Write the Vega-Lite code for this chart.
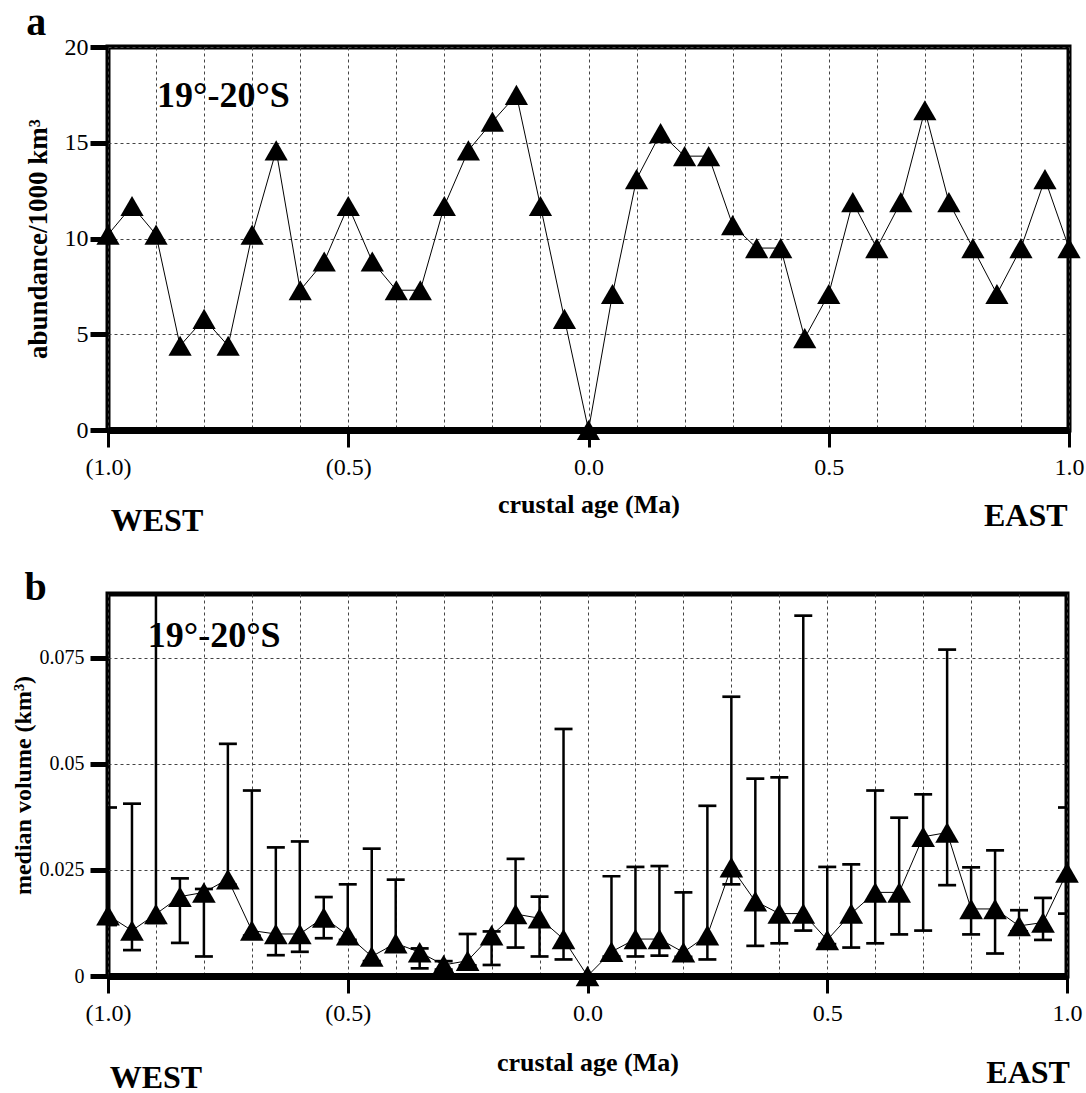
{
  "$schema": "https://vega.github.io/schema/vega-lite/v6.json",
  "background": "white",
  "padding": {"left": 8, "top": 0, "right": 5, "bottom": 0},
  "config": {
    "view": {"stroke": "black", "strokeWidth": 5},
    "font": "Liberation Serif",
    "axis": {
      "domain": false,
      "grid": true,
      "gridDash": [3, 3],
      "gridColor": "#444",
      "gridWidth": 1,
      "tickColor": "black",
      "labelColor": "black",
      "titleColor": "black",
      "labelFont": "Liberation Serif",
      "titleFont": "Liberation Serif",
      "titleFontWeight": "bold"
    },
    "text": {"font": "Liberation Serif", "fontWeight": "bold", "color": "black"}
  },
  "datasets": {
    "a": [
      {"age": -1.0, "abundance": 10.2}, {"age": -0.95, "abundance": 11.7}, {"age": -0.9, "abundance": 10.2},
      {"age": -0.85, "abundance": 4.4}, {"age": -0.8, "abundance": 5.8}, {"age": -0.75, "abundance": 4.4},
      {"age": -0.7, "abundance": 10.2}, {"age": -0.65, "abundance": 14.6}, {"age": -0.6, "abundance": 7.3},
      {"age": -0.55, "abundance": 8.8}, {"age": -0.5, "abundance": 11.7}, {"age": -0.45, "abundance": 8.8},
      {"age": -0.4, "abundance": 7.3}, {"age": -0.35, "abundance": 7.3}, {"age": -0.3, "abundance": 11.7},
      {"age": -0.25, "abundance": 14.6}, {"age": -0.2, "abundance": 16.1}, {"age": -0.15, "abundance": 17.5},
      {"age": -0.1, "abundance": 11.7}, {"age": -0.05, "abundance": 5.8}, {"age": 0.0, "abundance": 0.0},
      {"age": 0.05, "abundance": 7.1}, {"age": 0.1, "abundance": 13.1}, {"age": 0.15, "abundance": 15.5},
      {"age": 0.2, "abundance": 14.3}, {"age": 0.25, "abundance": 14.3}, {"age": 0.3, "abundance": 10.7},
      {"age": 0.35, "abundance": 9.5}, {"age": 0.4, "abundance": 9.5}, {"age": 0.45, "abundance": 4.8},
      {"age": 0.5, "abundance": 7.1}, {"age": 0.55, "abundance": 11.9}, {"age": 0.6, "abundance": 9.5},
      {"age": 0.65, "abundance": 11.9}, {"age": 0.7, "abundance": 16.7}, {"age": 0.75, "abundance": 11.9},
      {"age": 0.8, "abundance": 9.5}, {"age": 0.85, "abundance": 7.1}, {"age": 0.9, "abundance": 9.5},
      {"age": 0.95, "abundance": 13.1}, {"age": 1.0, "abundance": 9.5}
    ],
    "b": [
      {"age": -1.0, "med": 0.0143, "lo": 0.012, "hi": 0.0397},
      {"age": -0.95, "med": 0.0107, "lo": 0.0061, "hi": 0.0406},
      {"age": -0.9, "med": 0.0146, "lo": 0.0125, "hi": 0.12},
      {"age": -0.85, "med": 0.0187, "lo": 0.0078, "hi": 0.023},
      {"age": -0.8, "med": 0.0197, "lo": 0.0046, "hi": 0.0205},
      {"age": -0.75, "med": 0.0228, "lo": 0.0215, "hi": 0.0547},
      {"age": -0.7, "med": 0.0107, "lo": 0.0095, "hi": 0.0437},
      {"age": -0.65, "med": 0.0099, "lo": 0.0049, "hi": 0.0303},
      {"age": -0.6, "med": 0.0099, "lo": 0.0057, "hi": 0.0317},
      {"age": -0.55, "med": 0.0138, "lo": 0.0089, "hi": 0.0186},
      {"age": -0.5, "med": 0.0096, "lo": 0.0085, "hi": 0.0216},
      {"age": -0.45, "med": 0.0046, "lo": 0.0035, "hi": 0.03},
      {"age": -0.4, "med": 0.0077, "lo": 0.0065, "hi": 0.0227},
      {"age": -0.35, "med": 0.0056, "lo": 0.0018, "hi": 0.0065},
      {"age": -0.3, "med": 0.0026, "lo": 0.0015, "hi": 0.0035},
      {"age": -0.25, "med": 0.0036, "lo": 0.0025, "hi": 0.0099},
      {"age": -0.2, "med": 0.0096, "lo": 0.0026, "hi": 0.0105},
      {"age": -0.15, "med": 0.0146, "lo": 0.0067, "hi": 0.0276},
      {"age": -0.1, "med": 0.0136, "lo": 0.0046, "hi": 0.0187},
      {"age": -0.05, "med": 0.0087, "lo": 0.0039, "hi": 0.0582},
      {"age": 0.0, "med": 0.0, "lo": 0.0, "hi": 0.0},
      {"age": 0.05, "med": 0.0057, "lo": 0.0046, "hi": 0.0235},
      {"age": 0.1, "med": 0.0087, "lo": 0.0046, "hi": 0.0257},
      {"age": 0.15, "med": 0.0087, "lo": 0.0048, "hi": 0.0259},
      {"age": 0.2, "med": 0.0056, "lo": 0.0045, "hi": 0.0197},
      {"age": 0.25, "med": 0.0096, "lo": 0.0039, "hi": 0.0401},
      {"age": 0.3, "med": 0.0256, "lo": 0.0216, "hi": 0.0658},
      {"age": 0.35, "med": 0.0176, "lo": 0.0071, "hi": 0.0465},
      {"age": 0.4, "med": 0.0147, "lo": 0.0077, "hi": 0.0468},
      {"age": 0.45, "med": 0.0147, "lo": 0.0107, "hi": 0.0849},
      {"age": 0.5, "med": 0.0085, "lo": 0.0075, "hi": 0.0257},
      {"age": 0.55, "med": 0.0147, "lo": 0.0067, "hi": 0.0263},
      {"age": 0.6, "med": 0.0197, "lo": 0.0077, "hi": 0.0437},
      {"age": 0.65, "med": 0.0197, "lo": 0.0098, "hi": 0.0373},
      {"age": 0.7, "med": 0.0328, "lo": 0.0107, "hi": 0.0428},
      {"age": 0.75, "med": 0.0338, "lo": 0.0214, "hi": 0.0769},
      {"age": 0.8, "med": 0.0158, "lo": 0.0098, "hi": 0.0256},
      {"age": 0.85, "med": 0.0158, "lo": 0.0053, "hi": 0.0296},
      {"age": 0.9, "med": 0.0118, "lo": 0.0105, "hi": 0.0155},
      {"age": 0.95, "med": 0.0126, "lo": 0.0085, "hi": 0.0184},
      {"age": 1.0, "med": 0.0244, "lo": 0.0147, "hi": 0.0397}
    ]
  },
  "resolve": {"scale": {"x": "independent", "y": "independent"}},
  "bounds": "flush",
  "spacing": 164,
  "vconcat": [
    {
      "width": 961,
      "height": 383,
      "layer": [
        {
          "data": {"name": "a"},
          "mark": {"type": "line", "color": "black", "strokeWidth": 1},
          "encoding": {
            "x": {"field": "age", "type": "quantitative", "scale": {"domain": [-1, 1], "nice": false, "zero": false},
              "axis": {"values": [-1, -0.9, -0.8, -0.7, -0.6, -0.5, -0.4, -0.3, -0.2, -0.1, 0, 0.1, 0.2, 0.3, 0.4, 0.5, 0.6, 0.7, 0.8, 0.9, 1],
                "labelExpr": "abs(datum.value*2 - round(datum.value*2)) < 0.001 ? (datum.value < -0.001 ? '(' + format(-datum.value, '.1f') + ')' : format(datum.value, '.1f')) : ''",
                "tickOpacity": {"condition": {"test": "abs(datum.value*2 - round(datum.value*2)) < 0.001", "value": 1}, "value": 0},
                "domain": true, "domainColor": "black", "domainWidth": 7,
                "tickSize": 17, "tickWidth": 3, "labelFontSize": 24, "labelPadding": 8, "labelFlush": false, "labelOverlap": false,
                "title": "crustal age (Ma)", "titleFontSize": 26, "titlePadding": 12}},
            "y": {"field": "abundance", "type": "quantitative", "scale": {"domain": [0, 20], "nice": false},
              "axis": {"values": [0, 5, 10, 15, 20], "tickSize": 18, "tickWidth": 5, "labelFontSize": 24, "labelPadding": 2,
                "title": "abundance/1000 km³", "titleFontSize": 27, "titlePadding": 12}}
          }
        },
        {
          "data": {"name": "a"},
          "mark": {"type": "point", "shape": "triangle-up", "filled": true, "color": "black", "opacity": 1, "size": 540},
          "encoding": {
            "x": {"field": "age", "type": "quantitative"},
            "y": {"field": "abundance", "type": "quantitative"}
          }
        },
        {
          "data": {"values": [{"t": "a"}]},
          "mark": {"type": "text", "align": "left", "baseline": "alphabetic", "fontSize": 40},
          "encoding": {"x": {"datum": -1.17}, "y": {"datum": 20.63}, "text": {"field": "t"}}
        },
        {
          "data": {"values": [{"t": "19°-20°S"}]},
          "mark": {"type": "text", "align": "left", "baseline": "alphabetic", "fontSize": 36},
          "encoding": {"x": {"datum": -0.898}, "y": {"datum": 16.87}, "text": {"field": "t"}}
        },
        {
          "data": {"values": [{"t": "WEST"}]},
          "mark": {"type": "text", "align": "center", "baseline": "middle", "fontSize": 32},
          "encoding": {"x": {"datum": -0.898}, "y": {"datum": -4.75}, "text": {"field": "t"}}
        },
        {
          "data": {"values": [{"t": "EAST"}]},
          "mark": {"type": "text", "align": "center", "baseline": "middle", "fontSize": 32},
          "encoding": {"x": {"datum": 0.91}, "y": {"datum": -4.49}, "text": {"field": "t"}}
        }
      ]
    },
    {
      "width": 959,
      "height": 382,
      "layer": [
        {
          "data": {"name": "b"},
          "mark": {"type": "line", "color": "black", "strokeWidth": 1},
          "encoding": {
            "x": {"field": "age", "type": "quantitative", "scale": {"domain": [-1, 1], "nice": false, "zero": false},
              "axis": {"values": [-1, -0.9, -0.8, -0.7, -0.6, -0.5, -0.4, -0.3, -0.2, -0.1, 0, 0.1, 0.2, 0.3, 0.4, 0.5, 0.6, 0.7, 0.8, 0.9, 1],
                "labelExpr": "abs(datum.value*2 - round(datum.value*2)) < 0.001 ? (datum.value < -0.001 ? '(' + format(-datum.value, '.1f') + ')' : format(datum.value, '.1f')) : ''",
                "tickOpacity": {"condition": {"test": "abs(datum.value*2 - round(datum.value*2)) < 0.001", "value": 1}, "value": 0},
                "domain": true, "domainColor": "black", "domainWidth": 7,
                "tickSize": 17, "tickWidth": 3, "labelFontSize": 24, "labelPadding": 8, "labelFlush": false, "labelOverlap": false,
                "title": "crustal age (Ma)", "titleFontSize": 26, "titlePadding": 24}},
            "y": {"field": "med", "type": "quantitative", "scale": {"domain": [0, 0.09], "nice": false},
              "axis": {"values": [0, 0.025, 0.05, 0.075], "labelExpr": "datum.value == 0 ? '0' : format(datum.value, '.3~f')",
                "tickSize": 18, "tickWidth": 5, "labelFontSize": 20, "labelPadding": 6,
                "title": "median volume (km³)", "titleFontSize": 24, "titlePadding": 4}}
          }
        },
        {
          "data": {"name": "b"},
          "mark": {"type": "rule", "color": "black", "strokeWidth": 2.5, "clip": true},
          "encoding": {
            "x": {"field": "age", "type": "quantitative"},
            "y": {"field": "lo", "type": "quantitative"},
            "y2": {"field": "hi"}
          }
        },
        {
          "data": {"name": "b"},
          "mark": {"type": "tick", "orient": "horizontal", "color": "black", "size": 18, "thickness": 2.7, "opacity": 1, "clip": true},
          "encoding": {
            "x": {"field": "age", "type": "quantitative"},
            "y": {"field": "hi", "type": "quantitative"}
          }
        },
        {
          "data": {"name": "b"},
          "mark": {"type": "tick", "orient": "horizontal", "color": "black", "size": 18, "thickness": 2.7, "opacity": 1, "clip": true},
          "encoding": {
            "x": {"field": "age", "type": "quantitative"},
            "y": {"field": "lo", "type": "quantitative"}
          }
        },
        {
          "data": {"name": "b"},
          "mark": {"type": "point", "shape": "triangle-up", "filled": true, "color": "black", "opacity": 1, "size": 560},
          "encoding": {
            "x": {"field": "age", "type": "quantitative"},
            "y": {"field": "med", "type": "quantitative"}
          }
        },
        {
          "data": {"values": [{"t": "b"}]},
          "mark": {"type": "text", "align": "left", "baseline": "alphabetic", "fontSize": 40},
          "encoding": {"x": {"datum": -1.174}, "y": {"datum": 0.0886}, "text": {"field": "t"}}
        },
        {
          "data": {"values": [{"t": "19°-20°S"}]},
          "mark": {"type": "text", "align": "left", "baseline": "alphabetic", "fontSize": 36},
          "encoding": {"x": {"datum": -0.917}, "y": {"datum": 0.0775}, "text": {"field": "t"}}
        },
        {
          "data": {"values": [{"t": "WEST"}]},
          "mark": {"type": "text", "align": "center", "baseline": "middle", "fontSize": 32},
          "encoding": {"x": {"datum": -0.9}, "y": {"datum": -0.024}, "text": {"field": "t"}}
        },
        {
          "data": {"values": [{"t": "EAST"}]},
          "mark": {"type": "text", "align": "center", "baseline": "middle", "fontSize": 32},
          "encoding": {"x": {"datum": 0.919}, "y": {"datum": -0.0229}, "text": {"field": "t"}}
        }
      ]
    }
  ]
}
